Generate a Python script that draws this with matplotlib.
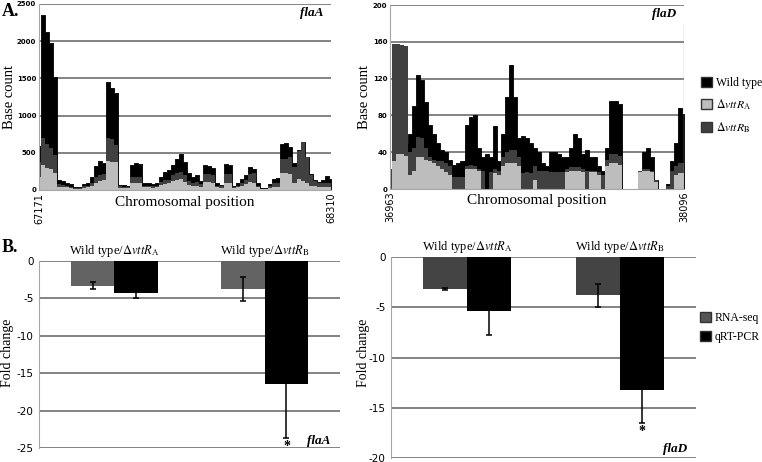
import matplotlib
matplotlib.use("Agg")
import matplotlib.pyplot as plt
import matplotlib.patches as mpatches
import numpy as np

plt.rcParams['font.family'] = ['Liberation Serif', 'DejaVu Serif']
plt.rcParams['mathtext.fontset'] = 'stix'
plt.rcParams['axes.unicode_minus'] = False

# ---- coverage data (base count), sampled along the region ----
flaA_start, flaA_end = 67171, 68310
flaA_wt = [590, 2350, 2120, 1980, 1520, 130, 120, 95, 80, 45, 40, 80, 100, 180, 320, 390,
           360, 1450, 1370, 1300, 70, 70, 60, 340, 360, 350, 90, 90, 80, 90, 180, 240,
           270, 340, 420, 480, 370, 230, 180, 200, 120, 330, 320, 300, 90, 70, 350, 340,
           60, 90, 150, 200, 310, 280, 90, 30, 25, 80, 150, 160, 620, 630, 580, 360,
           540, 650, 450, 220, 140, 110, 130, 190, 150]
flaA_dA = [180, 340, 300, 280, 230, 45, 40, 35, 30, 20, 20, 30, 35, 50, 100, 120,
           130, 390, 380, 370, 30, 30, 25, 90, 90, 90, 35, 35, 30, 35, 70, 80,
           90, 120, 140, 150, 110, 70, 60, 60, 45, 110, 110, 100, 40, 30, 100, 100,
           25, 35, 60, 80, 110, 100, 40, 10, 10, 25, 40, 40, 230, 230, 220, 100,
           150, 120, 100, 60, 50, 40, 40, 45, 40]
flaA_dB = [370, 700, 620, 560, 470, 80, 70, 55, 45, 30, 30, 50, 60, 90, 170, 200,
           220, 700, 680, 600, 50, 45, 40, 180, 180, 170, 60, 55, 50, 55, 110, 130,
           140, 200, 230, 240, 200, 120, 100, 110, 80, 210, 220, 200, 60, 50, 220, 210,
           40, 60, 100, 140, 220, 230, 60, 20, 15, 50, 90, 100, 410, 420, 450, 310,
           520, 640, 440, 200, 120, 90, 90, 100, 90]

flaD_start, flaD_end = 36963, 38096
flaD_wt = [20, 20, 20, 20, 50, 60, 90, 124, 118, 95, 70, 60, 50, 42, 40, 32,
           26, 28, 30, 70, 78, 80, 45, 35, 38, 35, 68, 30, 60, 100, 135, 100,
           55, 58, 55, 50, 45, 40, 28, 25, 40, 40, 38, 35, 35, 45, 60, 55,
           38, 42, 35, 35, 25, 20, 45, 96, 96, 92, 0, 0, 0, 0, 20, 40,
           45, 35, 10, 0, 0, 5, 30, 50, 88, 82]
flaD_dA = [0, 30, 38, 38, 36, 15, 20, 35, 35, 32, 30, 28, 25, 22, 18, 15,
           0, 0, 0, 22, 22, 22, 20, 0, 0, 0, 17, 15, 25, 28, 28, 28,
           25, 0, 0, 0, 10, 0, 0, 0, 0, 0, 0, 0, 18, 20, 20, 20,
           18, 0, 18, 18, 15, 0, 25, 28, 28, 26, 0, 0, 0, 0, 18, 20,
           20, 18, 8, 0, 0, 0, 0, 15, 17, 17]
flaD_dB = [22, 158, 158, 157, 155, 40, 45, 57, 55, 45, 35, 32, 30, 30, 28, 25,
           13, 13, 13, 25, 26, 25, 22, 20, 0, 18, 22, 20, 35, 40, 42, 42,
           35, 17, 18, 17, 25, 20, 20, 20, 18, 18, 18, 18, 22, 24, 24, 24,
           22, 20, 20, 20, 18, 15, 32, 38, 38, 36, 0, 0, 0, 0, 20, 22,
           22, 20, 10, 0, 0, 3, 20, 25, 28, 28]

# ---- fold change data ----
comparisons = [r'Wild type/$\Delta\mathit{vttR}_{\rm A}$', r'Wild type/$\Delta\mathit{vttR}_{\rm B}$']
flaA_rnaseq = [-3.3, -3.7]
flaA_rnaseq_err = [0.45, 1.6]
flaA_qpcr = [-4.3, -16.4]
flaA_qpcr_err = [0.6, 7.3]
flaD_rnaseq = [-3.2, -3.8]
flaD_rnaseq_err = [0.1, 1.15]
flaD_qpcr = [-5.4, -13.2]
flaD_qpcr_err = [2.4, 3.3]

W = 762
H = 462
fig = plt.figure(figsize=(W / 100, H / 100), dpi=100)


def box(x0, y0, x1, y1):
    return [x0 / W, 1 - y1 / H, (x1 - x0) / W, (y1 - y0) / H]


grid_c = '#7a7a7a'
spine_c = '#a6a6a6'


def area_panel(rect, start, end, wt, da, db, ymax, step, gene, xl0, xl1, ylab_x):
    ax = fig.add_axes(rect)
    x = np.linspace(start, end, len(wt))
    ax.fill_between(x, 0, wt, step='mid', color='black', lw=0.6, edgecolor='black')
    ax.fill_between(x, 0, db, step='mid', color='#404040', lw=0)
    ax.fill_between(x, 0, da, step='mid', color='#bdbdbd', lw=0)
    ax.set_xlim(start, end)
    ax.set_ylim(0, ymax)
    ax.set_yticks(np.arange(0, ymax + 1, step))
    for v in np.arange(step, ymax + 1, step):
        ax.axhline(v, color=grid_c, lw=1.3, zorder=0)
    for s in ['top', 'right']:
        ax.spines[s].set_visible(False)
    ax.spines['left'].set_color(spine_c)
    ax.spines['bottom'].set_color(spine_c)
    ax.tick_params(axis='y', length=0, pad=2, labelsize=5)
    for t in ax.get_yticklabels():
        t.set_family('DejaVu Sans')
        t.set_weight('bold')
    ax.set_xticks([start, end])
    ax.set_xticklabels([xl0, xl1], rotation=90, family='DejaVu Sans', fontsize=7)
    ax.tick_params(axis='x', length=0, pad=2)
    ax.text(0.5, -0.065, 'Chromosomal position', transform=ax.transAxes,
            ha='center', va='center', fontsize=11)
    fig.text(ylab_x / W, 1 - 97 / H, 'Base count', rotation=90, ha='center',
             va='center', fontsize=10.5)
    ax.text(0.975, 0.95, gene, transform=ax.transAxes, ha='right', va='center',
            fontsize=9.5, style='italic', weight='bold')
    return ax


def bar_panel(rect, rna, rna_err, qpcr, qpcr_err, ymin, rna_color, gene, gene_y, ylab_x):
    ax = fig.add_axes(rect)
    c = np.array([0.5, 1.5])
    bw = 0.288
    ax.bar(c - bw / 2, rna, bw, color=rna_color, zorder=2)
    ax.bar(c + bw / 2, qpcr, bw, color='black', zorder=2)
    ax.errorbar(c - bw / 2, rna, yerr=rna_err, fmt='none', ecolor='black',
                elinewidth=1.1, capsize=2.5, capthick=1.1, zorder=3)
    ax.errorbar(c + bw / 2, qpcr, yerr=qpcr_err, fmt='none', ecolor='black',
                elinewidth=1.1, capsize=2.5, capthick=1.1, zorder=3)
    ax.set_xlim(0, 2)
    ax.set_ylim(ymin, 0)
    ax.set_yticks(np.arange(ymin, 1, 5))
    for v in np.arange(ymin, 1, 5):
        ax.axhline(v, color=grid_c, lw=1.3, zorder=1)
    ax.set_xticks([])
    for s in ['top', 'right', 'bottom']:
        ax.spines[s].set_visible(False)
    ax.spines['left'].set_color(spine_c)
    ax.tick_params(axis='y', length=0, pad=4, labelsize=7.5)
    for t in ax.get_yticklabels():
        t.set_family('DejaVu Sans')
    for xi, lab in zip(c, comparisons):
        ax.text(xi, 1.012, lab, transform=ax.get_xaxis_transform(), ha='center',
                va='bottom', fontsize=9)
    # significance star below the qRT-PCR bar for the B comparison
    ax.text(c[1] + bw / 2, qpcr[1] - qpcr_err[1] - 0.25, '*', ha='center',
            va='top', fontsize=10, weight='bold')
    ax.text(0.97, gene_y, gene, transform=ax.transAxes, ha='right', va='center',
            fontsize=9.5, style='italic', weight='bold')
    fig.text(ylab_x / W, 1 - 353 / H, 'Fold change', rotation=90, ha='center',
             va='center', fontsize=10)
    return ax


ax1 = area_panel(box(39, 4, 331, 190), flaA_start, flaA_end, flaA_wt, flaA_dA, flaA_dB,
                 2500, 500, 'flaA', '67171', '68310', 10)
ax2 = area_panel(box(390, 5, 684, 189), flaD_start, flaD_end, flaD_wt, flaD_dA, flaD_dB,
                 200, 40, 'flaD', '36963', '38096', 365)
ax2.axvline(flaD_end, ymax=0.89, color=spine_c, lw=1)

ax3 = bar_panel(box(39, 261, 340, 448), flaA_rnaseq, flaA_rnaseq_err, flaA_qpcr,
                flaA_qpcr_err, -25, '#636363', 'flaA', 0.035, 8)
ax4 = bar_panel(box(391, 257, 696, 458), flaD_rnaseq, flaD_rnaseq_err, flaD_qpcr,
                flaD_qpcr_err, -20, '#444444', 'flaD', 0.045, 363)

# panel letters
fig.text(2 / W, 1 - 12 / H, 'A.', fontsize=13, weight='bold', va='center')
fig.text(2 / W, 1 - 247 / H, 'B.', fontsize=13, weight='bold', va='center')

# legends
h1 = [mpatches.Patch(facecolor='black', edgecolor='#333333'),
      mpatches.Patch(facecolor='#bdbdbd', edgecolor='#333333'),
      mpatches.Patch(facecolor='#404040', edgecolor='#333333')]
fig.legend(h1, ['Wild type', r'$\Delta\mathit{vttR}_{\rm A}$', r'$\Delta\mathit{vttR}_{\rm B}$'],
           loc='upper left', bbox_to_anchor=(701 / W, 1 - 77 / H), frameon=False,
           fontsize=8.5, handlelength=0.9, handleheight=0.9, handletextpad=0.35,
           labelspacing=0.7, borderaxespad=0, borderpad=0)
h2 = [mpatches.Patch(facecolor='#555555', edgecolor='#333333'),
      mpatches.Patch(facecolor='black', edgecolor='#333333')]
fig.legend(h2, ['RNA-seq', 'qRT-PCR'], loc='upper left',
           bbox_to_anchor=(700 / W, 1 - 312 / H), frameon=False, fontsize=8.5,
           handlelength=0.9, handleheight=0.9, handletextpad=0.35, labelspacing=0.6,
           borderaxespad=0, borderpad=0)

fig.savefig('out.png', dpi=100)
